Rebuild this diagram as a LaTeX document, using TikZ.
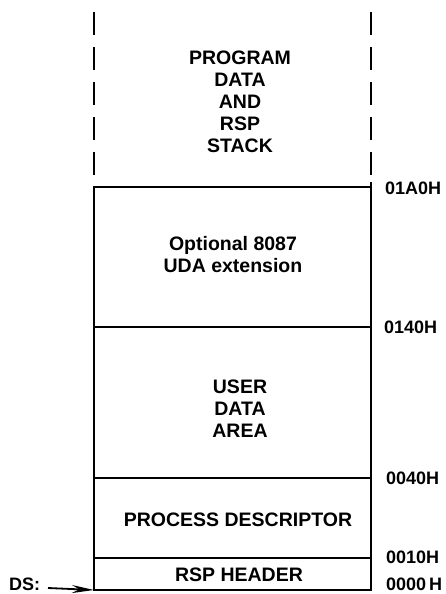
\documentclass[tikz,border=0pt]{standalone}
\usepackage{fontspec}
\setmainfont{Liberation Sans}
\usetikzlibrary{arrows.meta}
\begin{document}
\begin{tikzpicture}[x=1pt,y=-1pt,
  wall/.style={line width=2.4pt},
  dashwall/.style={line width=2.4pt, dash pattern=on 23pt off 12pt},
  txt/.style={font=\fontsize{19.5}{22}\selectfont\bfseries, align=center, inner sep=0pt},
  addr/.style={font=\fontsize{18}{20}\selectfont\bfseries, anchor=west, inner sep=0pt}]
\useasboundingbox (0,0) rectangle (445,594);
% coordinates of the memory map
\coordinate (tl) at (94,187);
\coordinate (tr) at (371,187);
\coordinate (bl) at (94,590);
\coordinate (br) at (371,590);
\coordinate (dlt) at (94,12);
\coordinate (drt) at (371,12);
\coordinate (dlb) at (94,177);
\coordinate (drb) at (371,177);
% dashed open top region
\draw[dashwall] (dlt) -- (dlb);
\draw[dashwall] (drt) -- (drb);
% solid box
\draw[wall] (tr) -- ++(0,-5) -- (tr) -- (tl) -- (bl) -- (br) -- (tr);
\draw[wall] (94,327) -- (371,327);
\draw[wall] (94,478) -- (371,478);
\draw[wall] (94,558) -- (371,558);
% region texts
\node[txt] (prog) at (240,102) {PROGRAM\\DATA\\AND\\RSP\\STACK};
\node[txt] (opt) at (233,255) {Optional 8087\\UDA extension};
\node[txt] (uda) at (240,409) {USER\\DATA\\AREA};
\node[txt] (pd) at (238,520) {PROCESS DESCRIPTOR};
\node[txt] (hdr) at (239,575) {RSP HEADER};
% addresses
\node[addr] (a1) at (385,188) {01A0H};
\node[addr] (a2) at (384,327) {0140H};
\node[addr] (a3) at (386,478) {0040H};
\node[addr] (a4) at (386,557) {0010H};
\node[addr] (a5) at (386,584) {0000\,H};
% DS pointer
\node[addr] (ds) at (9,584) {DS:};
\coordinate (dsstart) at (48,588);
\draw[line width=1.8pt, -{Stealth[length=22pt,width=8pt]}] (dsstart) -- (bl);
\end{tikzpicture}
\end{document}
